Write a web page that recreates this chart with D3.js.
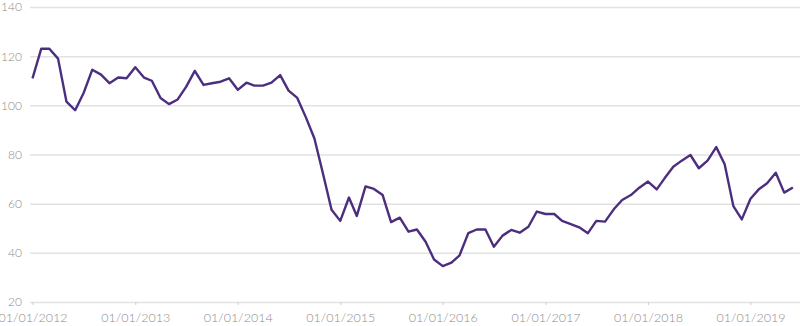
<!DOCTYPE html>
<html>
<head>
<meta charset="utf-8">
<script src="https://cdn.jsdelivr.net/npm/d3@7"></script>
<style>
  html, body { margin: 0; padding: 0; background: #fff; }
  svg { display: block; }
  .tick text { font-family: Lato, "Open Sans", sans-serif; font-weight: 300; fill: #8c8c8c; }
</style>
</head>
<body>
<svg id="chart" width="800" height="326"></svg>
<script>
// Monthly values, Jan 2012 – Jun 2019
const startYear = 2012;
const startMonth = 0;
const values = [
  111, 123, 123, 119, 101.5, 98, 105, 114.5, 112.5, 109, 111.3, 111,
  115.5, 111.3, 110, 103, 100.5, 102.4, 107.5, 114, 108.3, 109, 109.6, 111,
  106.3, 109.2, 108, 108, 109.2, 112.3, 106, 103, 95, 86.5, 72, 57.5,
  53, 62.5, 55, 67, 66, 63.5, 52.5, 54.3, 48.6, 49.5, 44.5, 37.3,
  34.6, 36, 39, 48, 49.5, 49.5, 42.5, 47, 49.3, 48.2, 50.6, 56.8,
  55.8, 55.8, 53, 51.7, 50.4, 48, 53, 52.7, 57.7, 61.5, 63.5, 66.5,
  69, 65.8, 70.3, 75, 77.5, 79.8, 74.4, 77.5, 83, 76, 59, 53.6,
  62, 66, 68.3, 72.6, 64.5, 66.6
];
const yTicks = [20, 40, 60, 80, 100, 120, 140];
const xTickYears = [2012, 2013, 2014, 2015, 2016, 2017, 2018, 2019];

const data = values.map((v, i) => ({ date: new Date(startYear, startMonth + i, 1), value: v }));

const svg = d3.select("#chart");
const x = d3.scaleTime()
  .domain([new Date(2012, 0, 1), new Date(2019, 0, 1)])
  .range([32.5, 750.5]);
const y = d3.scaleLinear().domain([20, 140]).range([302, 7]);

// gridlines + y labels
const yAxis = d3.axisLeft(y)
  .tickValues(yTicks)
  .tickSize(-770)
  .tickPadding(8)
  .tickFormat(d3.format("d"));
const gy = svg.append("g").attr("transform", "translate(30,0)").call(yAxis);
gy.select(".domain").remove();
gy.selectAll(".tick line").attr("stroke", "#e2e2e2").attr("stroke-width", 1.5);
gy.selectAll(".tick text").attr("font-size", 12).attr("x", -8);

// x axis
const xAxis = d3.axisBottom(x)
  .tickValues(xTickYears.map(yr => new Date(yr, 0, 1)))
  .tickSize(3)
  .tickPadding(8)
  .tickFormat(d3.timeFormat("%d/%m/%Y"));
const gx = svg.append("g").attr("transform", "translate(0,302)").call(xAxis);
gx.select(".domain").remove();
gx.selectAll(".tick line").attr("stroke", "#cfcfcf").attr("stroke-width", 1);
gx.selectAll(".tick text").attr("font-size", 12.5);

// line
const line = d3.line().x(d => x(d.date)).y(d => y(d.value));
svg.append("path")
  .datum(data)
  .attr("fill", "none")
  .attr("stroke", "#4b2e7d")
  .attr("stroke-width", 2.4)
  .attr("stroke-linejoin", "round")
  .attr("d", line);
</script>
</body>
</html>
